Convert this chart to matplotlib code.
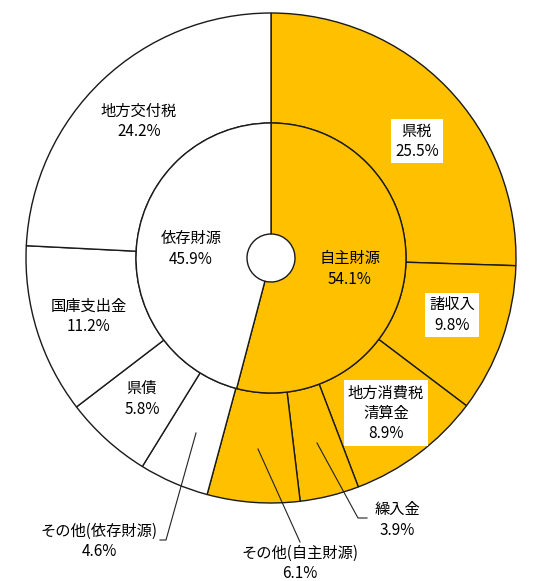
import matplotlib.pyplot as plt

plt.rcParams['font.family'] = ['Noto Sans CJK JP', 'DejaVu Sans']

# inner ring
inner_labels = ['自主財源', '依存財源']
inner_values = [54.1, 45.9]

# outer ring (clockwise from top)
outer_labels = ['県税', '諸収入', '地方消費税\n清算金', '繰入金', 'その他(自主財源)',
                'その他(依存財源)', '県債', '国庫支出金', '地方交付税']
outer_values = [25.5, 9.8, 8.9, 3.9, 6.1, 4.6, 5.8, 11.2, 24.2]
outer_group = [0, 0, 0, 0, 0, 1, 1, 1, 1]

YELLOW = '#FFC000'
W, H = 540, 581
CX, CY = 271, 258
R_OUT, R_MID, R_HOLE = 245, 135, 24


def Y(y):
    # screen pixel (from top) -> data y
    return H - y


fig = plt.figure(figsize=(W / 100, H / 100), dpi=100)
ax = fig.add_axes([0, 0, 1, 1])

group_colors = [YELLOW, 'white']
wp = dict(edgecolor='#1a1a1a', linewidth=1.0)

ax.pie(outer_values, radius=R_OUT, center=(CX, Y(CY)), startangle=90, counterclock=False,
       colors=[group_colors[g] for g in outer_group],
       wedgeprops=dict(width=R_OUT - R_MID, **wp))
ax.pie(inner_values, radius=R_MID, center=(CX, Y(CY)), startangle=90, counterclock=False,
       colors=group_colors, wedgeprops=dict(width=R_MID - R_HOLE, **wp))

ax.set_aspect('equal')
ax.set_xlim(0, W)
ax.set_ylim(0, H)
ax.axis('off')

fs = 11
ls = 1.25


def label(x, y, name, val, box=False):
    kw = dict(ha='center', va='center', fontsize=fs, linespacing=ls, color='black')
    if box:
        kw['bbox'] = dict(boxstyle='square,pad=0.25', facecolor='white', edgecolor='none')
    ax.text(x, Y(y), f'{name}\n{val}%', **kw)


# inner labels
label(350, 269, inner_labels[0], inner_values[0])
label(191, 249, inner_labels[1], inner_values[1])

# outer labels
label(417, 141, outer_labels[0], outer_values[0], box=True)
label(452, 315, outer_labels[1], outer_values[1], box=True)
label(386, 413, outer_labels[2], outer_values[2], box=True)
label(397, 520, outer_labels[3], outer_values[3])
label(300, 563, outer_labels[4], outer_values[4])
label(99, 541, outer_labels[5], outer_values[5])
label(142, 399, outer_labels[6], outer_values[6])
label(89, 316, outer_labels[7], outer_values[7])
label(139, 121, outer_labels[8], outer_values[8])

# leader lines
lk = dict(color='#222222', linewidth=0.8)
ax.plot([317, 358, 367], [Y(443), Y(518), Y(518)], **lk)
ax.plot([258, 300], [Y(449), Y(542)], **lk)
ax.plot([196, 166, 160], [Y(433), Y(540), Y(540)], **lk)

fig.savefig('out.png', dpi=100)
